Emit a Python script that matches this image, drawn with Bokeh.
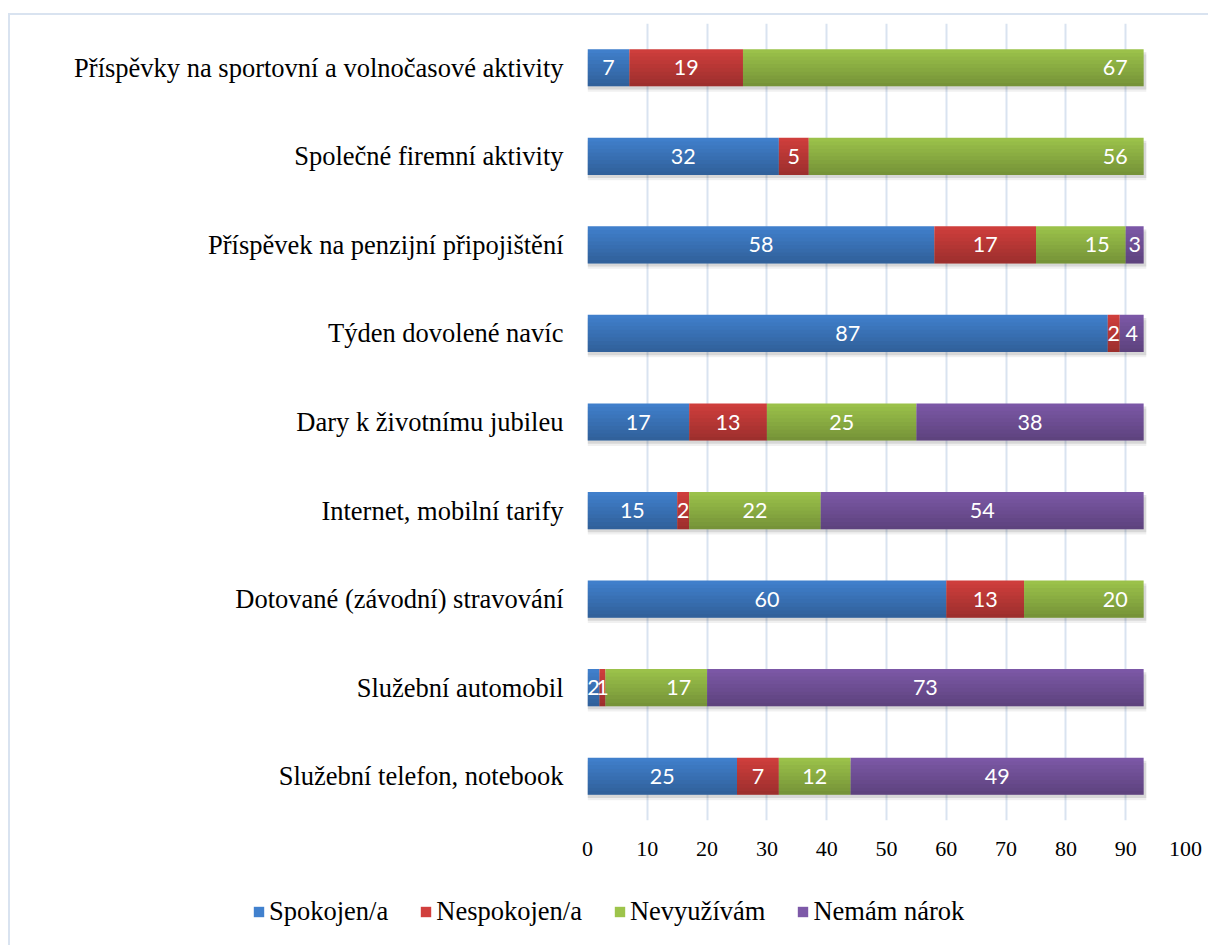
import numpy as np
from bokeh.plotting import figure
from bokeh.layouts import column, row
from bokeh.models import (Range1d, FactorRange, FixedTicker, Legend, LegendItem,
                          ColumnDataSource)
from bokeh.transform import dodge
from bokeh.core.properties import value
from bokeh.embed import file_html
from bokeh.resources import INLINE

# ---------------- data ----------------
categories = [
    "Příspěvky na sportovní a volnočasové aktivity",
    "Společné firemní aktivity",
    "Příspěvek na penzijní připojištění",
    "Týden dovolené navíc",
    "Dary k životnímu jubileu",
    "Internet, mobilní tarify",
    "Dotované (závodní) stravování",
    "Služební automobil",
    "Služební telefon, notebook",
]
spokojen = [7, 32, 58, 87, 17, 15, 60, 2, 25]
nespokojen = [19, 5, 17, 2, 13, 2, 13, 1, 7]
nevyuzivam = [67, 56, 15, 0, 25, 22, 20, 17, 12]
nemam_narok = [0, 0, 3, 4, 38, 54, 0, 73, 49]
series_names = ["Spokojen/a", "Nespokojen/a", "Nevyužívám", "Nemám nárok"]
x_ticks = [0, 10, 20, 30, 40, 50, 60, 70, 80, 90, 100]
# rows whose green label sits at the inside end of its segment
green_label_at_end = [
    "Příspěvky na sportovní a volnočasové aktivity",
    "Společné firemní aktivity",
    "Příspěvek na penzijní připojištění",
    "Dotované (závodní) stravování",
    "Služební automobil",
]

# ---------------- style ----------------
colors = ["#4181CE", "#D13F3D", "#9DC44B", "#7D59A8"]
grid_color = "#D9E3F0"
serif = "Liberation Serif"
bar_h = 0.42

series = [spokojen, nespokojen, nevyuzivam, nemam_narok]
vals = np.array(series, dtype=float)
lefts = np.vstack([np.zeros(len(categories)), np.cumsum(vals, axis=0)[:-1]])
rights = lefts + vals
totals = vals.sum(axis=0)

p = figure(width=1198, height=870,
           y_range=FactorRange(factors=categories[::-1]),
           x_range=Range1d(0, 100),
           output_backend="svg", toolbar_location=None,
           min_border_left=577, min_border_right=23,
           min_border_top=8, min_border_bottom=65)
p.outline_line_color = None
p.background_fill_color = "white"
p.border_fill_color = "white"

# grid
p.ygrid.grid_line_color = None
p.xgrid.grid_line_color = grid_color
p.xgrid.grid_line_width = 2
p.xaxis.ticker = FixedTicker(ticks=x_ticks)

# axes
for ax in (p.xaxis, p.yaxis):
    ax.axis_line_color = None
    ax.major_tick_line_color = None
    ax.minor_tick_line_color = None
    ax.major_label_text_font = serif
    ax.major_label_text_color = "#000000"
p.yaxis.major_label_text_font_size = "26.5px"
p.yaxis.major_label_standoff = 18
p.xaxis.major_label_text_font_size = "22px"
p.xaxis.major_label_standoff = 15

# shadow
tot_src = ColumnDataSource(dict(cat=categories, total=totals))
for off, alpha in [(-0.035, 0.10), (-0.06, 0.06)]:
    p.hbar(y=dodge("cat", off, range=p.y_range), left=0,
           right=dodge("total", 0.45), height=bar_h, source=tot_src,
           fill_color="black", fill_alpha=alpha, line_color=None)

# bars
for i, name in enumerate(series_names):
    src = ColumnDataSource(dict(cat=categories, left=lefts[i], right=rights[i]))
    p.hbar(y="cat", left="left", right="right", height=bar_h, source=src,
           fill_color=colors[i], line_color=None)

# gradient shading overlay (darker toward the bottom)
n = 10
for k in range(n):
    off = bar_h / 2 - (k + 0.5) * bar_h / n
    p.hbar(y=dodge("cat", off, range=p.y_range), left=0, right="total",
           height=bar_h / n, source=tot_src,
           fill_color="black", fill_alpha=0.26 * (k + 0.5) / n, line_color=None)

# labels
cx, cy, ct = [], [], []
ex, ey, et = [], [], []
for i in range(len(series_names)):
    for j, cat in enumerate(categories):
        v = series[i][j]
        if v == 0:
            continue
        if i == 2 and cat in green_label_at_end:
            ex.append(rights[i][j]); ey.append(cat); et.append(str(v))
        else:
            cx.append(lefts[i][j] + v / 2); cy.append(cat); ct.append(str(v))

p.text(x="x", y="y", text="t", source=ColumnDataSource(dict(x=cx, y=cy, t=ct)),
       text_align="center", text_baseline="middle", text_color="white",
       text_font=value("Lato"), text_font_size="21.5px")
p.text(x="x", y="y", text="t", source=ColumnDataSource(dict(x=ex, y=ey, t=et)),
       text_align="right", text_baseline="middle", text_color="white",
       x_offset=-16,
       text_font=value("Lato"), text_font_size="21.5px")

# ---------------- legend strip ----------------
lg = figure(width=1198, height=60, x_range=Range1d(0, 1), y_range=Range1d(0, 1),
            x_axis_type=None, y_axis_type=None, min_border=0,
            output_backend="svg", toolbar_location=None)
lg.outline_line_color = None
lg.grid.grid_line_color = None
# zero-size swatch renderers: they only supply the legend's colour squares
lg_renderers = [lg.hbar(y=[0.5], left=[0], right=[0], height=0, fill_color=c,
                        line_color=None) for c in colors]
legend = Legend(items=[LegendItem(label=n_, renderers=[r])
                       for n_, r in zip(series_names, lg_renderers)],
                orientation="horizontal", location=(242, 18),
                glyph_width=13, glyph_height=13, label_standoff=4, spacing=31,
                padding=0, margin=0, border_line_color=None,
                background_fill_alpha=0,
                label_text_font=serif, label_text_font_size="26.5px",
                label_text_color="#000000")
lg.add_layout(legend)

layout = column(p, row(lg, spacing=0), spacing=0)
layout.styles = {"margin-left": "8px", "margin-top": "13px",
                 "border-left": f"2px solid {grid_color}",
                 "border-top": f"2px solid {grid_color}"}

open("out.html", "w").write(file_html(layout, INLINE))
